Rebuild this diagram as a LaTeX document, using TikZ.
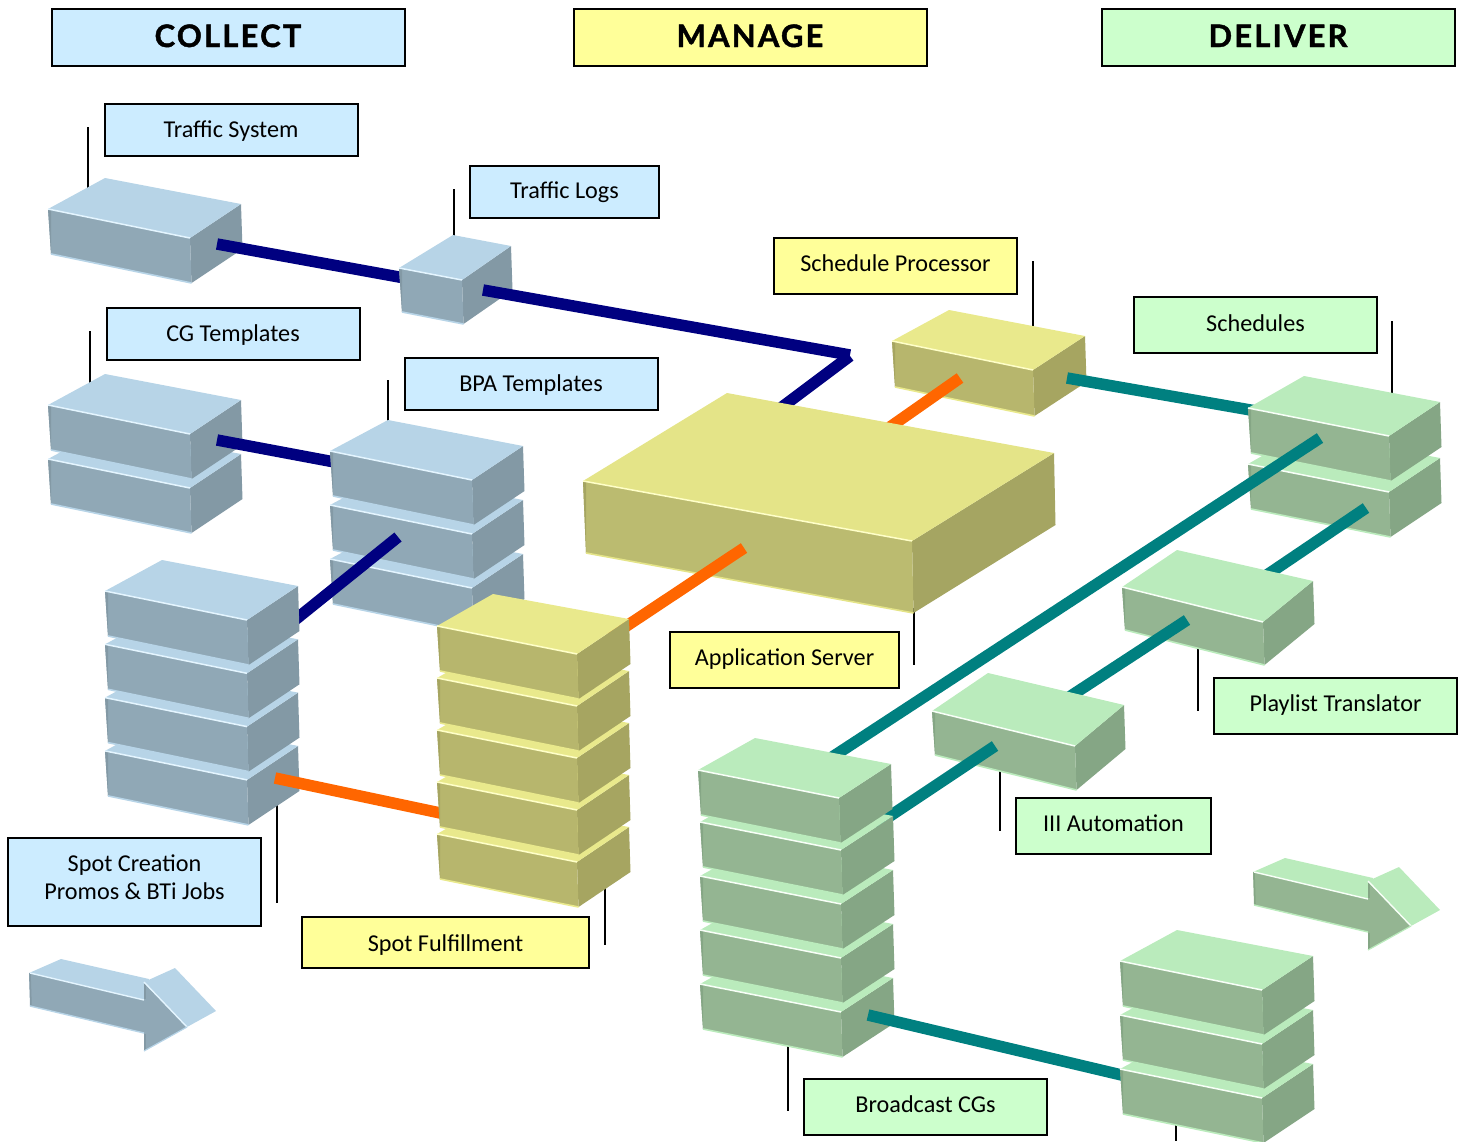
\documentclass[tikz,border=0pt]{standalone}
\usepackage{fontspec}
\setmainfont{Carlito}
\newfontfamily\hdrfont[LetterSpace=7,BoldFeatures={FakeBold=1.4}]{Lato}
\usetikzlibrary{calc}
\definecolor{bluetop}{HTML}{B7D4E7}\definecolor{bluefront}{HTML}{90A8B6}\definecolor{blueside}{HTML}{8399A5}\definecolor{bluehi}{HTML}{E4F5FF}
\definecolor{yeltop}{HTML}{E9E98C}\definecolor{yelfront}{HTML}{B7B66D}\definecolor{yelside}{HTML}{A6A561}\definecolor{yelhi}{HTML}{FFFFC8}
\definecolor{bigtop}{HTML}{E4E488}\definecolor{bigfront}{HTML}{BBBB70}\definecolor{bigside}{HTML}{A5A562}\definecolor{bighi}{HTML}{FFFFC8}
\definecolor{grntop}{HTML}{BAEBBC}\definecolor{grnfront}{HTML}{94B592}\definecolor{grnside}{HTML}{85A685}\definecolor{grnhi}{HTML}{F8FFF8}
\definecolor{navyline}{HTML}{000080}\definecolor{orangeline}{HTML}{FF6600}\definecolor{tealline}{HTML}{008080}
\definecolor{bluelab}{HTML}{CCECFF}\definecolor{yellab}{HTML}{FFFF99}\definecolor{grnlab}{HTML}{CCFFCC}
\tikzset{
 x=1pt,y=-1pt,
 lab/.style={draw=black,line width=2pt,inner sep=0pt,outer sep=0pt,align=center,font=\fontsize{24.2}{28}\selectfont,text=black},
 hdr/.style={lab,font=\hdrfont\bfseries\fontsize{31}{36}\selectfont,minimum width=353pt,minimum height=57pt},
 leaderln/.style={draw=black,line width=1.8pt},
 navyc/.style={draw=navyline,line width=11.5pt},
 orangec/.style={draw=orangeline,line width=11.5pt},
 tealc/.style={draw=tealline,line width=11.5pt},
}
\newcommand{\lt}[2]{\raisebox{-#1pt}[0pt][0pt]{#2}}
% palette, left, back, right, front, height
\newcommand{\isobox}[6]{%
 \coordinate (L) at #2;\coordinate (B) at #3;\coordinate (R) at #4;\coordinate (F) at #5;
 \coordinate (L2) at ($(L)+(3,#6+1)$);\coordinate (F2) at ($(F)+(1.5,#6+1)$);\coordinate (R2) at ($(R)+(1.5,#6+1)$);
 \fill[#1side] (F)--(R)--(R2)--(F2)--cycle;
 \fill[#1front] (L)--(F)--(F2)--(L2)--cycle;
 \fill[#1side] (L)--($(L)+(3,1)$)--($(L2)+(0,-1)$)--(L2)--cycle;
 \draw[#1top,line width=1.6pt] (L2)--(F2);
 \fill[#1top] (L)--(B)--(R)--(F)--cycle;
 \draw[#1hi,line width=1.5pt] (L)--(F);
}
\newcommand{\isoarrow}[2]{%
 \begin{scope}[shift={#2}]
 \fill[#1top] (29,973)--(61,959)--(149,979)--(144,1000)--cycle;
 \fill[#1top] (144,982)--(175,968)--(216,1011)--(187,1027)--cycle;
 \fill[#1front] (29,973)--(144,1000)--(144,983)--(187,1027)--(144,1051)--(144,1033)--(30,1006)--cycle;
 \draw[#1side,line width=1.5pt] (30,973)--(31,1005);
 \draw[#1side,line width=1.5pt] (145,984)--(145,999);
 \draw[#1side,line width=1.5pt] (145,1034)--(145,1050);
 \draw[#1hi,line width=1.4pt] (30,973)--(144,1000);
 \draw[#1hi,line width=1.4pt] (144,982)--(187,1027);
 \draw[#1top,line width=1.4pt] (30,1006)--(144,1033);
 \draw[#1top,line width=1.2pt] (144,1051)--(187,1027);
 \end{scope}}
\begin{document}
\begin{tikzpicture}
\useasboundingbox (0,0) rectangle (1466,1141);
% named free ends of leaders
\foreach \n/\x/\a/\b in {a/88/127/190,b/454/189/238,c/90/331/385,d/388/380/424,e/1033/261/330,f/1392/321/398,g/914/608/665,h/1198/645/711,i/1000/766/831,j/277/800/903,k/605/885/945,l/788/1040/1111,m/1176/1120/1141}{
 \coordinate (lead\n1) at (\x,\a);\coordinate (lead\n2) at (\x,\b);
 \draw[leaderln] (lead\n1)--(lead\n2);
}
% connector ends
\coordinate (n1a) at (217,244);\coordinate (n1b) at (410,279);
\coordinate (n2a) at (483,290);\coordinate (n2b) at (850,355);
\coordinate (n3a) at (850,356);\coordinate (n3b) at (770,416);
\coordinate (n4a) at (217,440);\coordinate (n4b) at (345,464);
\coordinate (n5a) at (398,537);\coordinate (n5b) at (285,628);
\coordinate (o1a) at (744,548);\coordinate (o1b) at (610,637);
\coordinate (o2a) at (960,378);\coordinate (o2b) at (880,434);
\coordinate (o3a) at (275,778);\coordinate (o3b) at (445,814);
\coordinate (t1a) at (1067,378);\coordinate (t1b) at (1262,412);
\coordinate (t2a) at (1320,438);\coordinate (t2b) at (820,765);
\coordinate (t3a) at (1366,508);\coordinate (t3b) at (1255,583);
\coordinate (t4a) at (1187,620);\coordinate (t4b) at (1060,703);
\coordinate (t5a) at (995,746);\coordinate (t5b) at (875,826);
\coordinate (t6a) at (868,1015);\coordinate (t6b) at (1130,1077);
% traffic chain
\isobox{blue}{(48,209)}{(105,178)}{(241,204)}{(190,238)}{44}
\draw[navyc] (n1a)--(n1b);
\isobox{blue}{(399,268)}{(453,235)}{(511,246)}{(462,280)}{43}
\draw[navyc] (n2a)--(n2b);
\draw[navyc] (n3a)--(n3b);
% CG templates
\foreach \i in {1,0}{\begin{scope}[shift={(0,54*\i)}]\isobox{blue}{(48,405)}{(105,374)}{(241,400)}{(190,434)}{44}\end{scope}}
\draw[navyc] (n4a)--(n4b);
% BPA templates
\foreach \i in {2,1,0}{\begin{scope}[shift={(0,54*\i)}]\isobox{blue}{(330,451)}{(388,420)}{(523,446)}{(472,480)}{44}\end{scope}}
\draw[navyc] (n5a)--(n5b);
% spot creation
\foreach \i in {3,2,1,0}{\begin{scope}[shift={(0,53.3*\i)}]\isobox{blue}{(105,591)}{(162,560)}{(298,586)}{(247,620)}{44}\end{scope}}
\draw[orangec] (o3a)--(o3b);
% schedule processor
\isobox{yel}{(892,341)}{(949,310)}{(1085,336)}{(1033,370)}{45}
\draw[orangec] (o2a)--(o2b);
\draw[tealc] (t1a)--(t1b);
% application server
\isobox{big}{(583,481)}{(727,393)}{(1054,453)}{(912,541)}{71}
\draw[orangec] (o1a)--(o1b);
% spot fulfillment
\foreach \i in {4,3,2,1,0}{\begin{scope}[shift={(0,52*\i)}]\isobox{yel}{(437,626)}{(493,594)}{(629,619)}{(577,654)}{44}\end{scope}}
% schedules
\foreach \i in {1,0}{\begin{scope}[shift={(0,56*\i)}]\isobox{grn}{(1248,408)}{(1304,376)}{(1440,402)}{(1389,436)}{44}\end{scope}}
\draw[tealc] (t2a)--(t2b);
\draw[tealc] (t3a)--(t3b);
% playlist translator
\isobox{grn}{(1122,587)}{(1177,550)}{(1313,581)}{(1263,622)}{42}
\draw[tealc] (t4a)--(t4b);
% III automation
\isobox{grn}{(932,711)}{(988,673)}{(1124,705)}{(1075,746)}{43}
\draw[tealc] (t5a)--(t5b);
% broadcast CGs
\foreach \i in {3,2,1,0}{\begin{scope}[shift={(2,52+54*\i)}]\isobox{grn}{(698,770)}{(755,738)}{(891,764)}{(839,798)}{44}\end{scope}}
\isobox{grn}{(698,770)}{(755,738)}{(891,764)}{(839,798)}{44}
\draw[tealc] (t6a)--(t6b);
% bottom right stack
\foreach \i in {2,1,0}{\begin{scope}[shift={(0,54*\i)}]\isobox{grn}{(1120,961)}{(1177,930)}{(1313,956)}{(1262,990)}{44}\end{scope}}
% arrows
\isoarrow{blue}{(0,0)}
\isoarrow{grn}{(1224,-101)}
% headers
\node[hdr,fill=bluelab] (hCollect) at (228,37) {\lt{10}{COLLECT}};
\node[hdr,fill=yellab] (hManage) at (750,37) {\lt{10}{MANAGE}};
\node[hdr,fill=grnlab] (hDeliver) at (1278,37) {\lt{10}{DELIVER}};
% labels
\node[lab,fill=bluelab,minimum width=253pt,minimum height=52pt] (lTraffic) at (231,130) {\lt{7}{Traffic System}};
\node[lab,fill=bluelab,minimum width=189pt,minimum height=52pt] (lLogs) at (564.5,192) {\lt{6.5}{Traffic Logs}};
\node[lab,fill=bluelab,minimum width=253pt,minimum height=52pt] (lCG) at (233,334) {\lt{7}{CG Templates}};
\node[lab,fill=bluelab,minimum width=253pt,minimum height=52pt] (lBPA) at (531,384) {\lt{7}{BPA Templates}};
\node[lab,fill=bluelab,minimum width=253pt,minimum height=88pt] (lSpot) at (134.5,881.5) {\lt{17.5}{\begin{tabular}[b]{@{}c@{}}Spot Creation\\Promos \& BTi Jobs\end{tabular}}};
\node[lab,fill=yellab,minimum width=243pt,minimum height=56pt] (lSched) at (895.5,266) {\lt{5.5}{Schedule Processor}};
\node[lab,fill=yellab,minimum width=229pt,minimum height=56pt] (lApp) at (784.5,659.5) {\lt{5.5}{Application Server}};
\node[lab,fill=yellab,minimum width=287pt,minimum height=51pt] (lFul) at (445.5,942.5) {\lt{9}{Spot Fulfillment}};
\node[lab,fill=grnlab,minimum width=243pt,minimum height=56pt] (lSchedules) at (1255.5,325) {\lt{6}{Schedules}};
\node[lab,fill=grnlab,minimum width=243pt,minimum height=56pt] (lPlay) at (1335.5,705.5) {\lt{5.5}{Playlist Translator}};
\node[lab,fill=grnlab,minimum width=195pt,minimum height=56pt] (lIII) at (1113.5,825.5) {\lt{6}{III Automation}};
\node[lab,fill=grnlab,minimum width=243pt,minimum height=56pt] (lBroad) at (925.5,1106.5) {\lt{6}{Broadcast CGs}};
\end{tikzpicture}
\end{document}
